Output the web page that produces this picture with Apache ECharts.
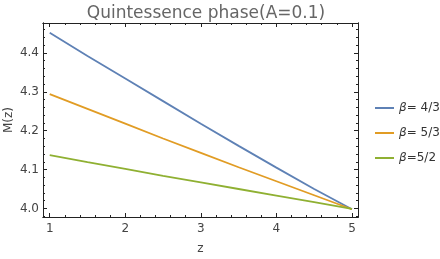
<!DOCTYPE html>
<html><head><meta charset="utf-8">
<script src="https://cdn.jsdelivr.net/npm/echarts@6/dist/echarts.min.js"></script>
<style>html,body{margin:0;padding:0;background:#fff}#c{width:440px;height:259px}</style>
</head><body><div id="c"></div>
<script>
const zValues = [1, 1.5, 2, 2.5, 3, 3.5, 4, 4.5, 5];
const seriesNames = ['β= 4/3', 'β= 5/3', 'β=5/2'];
const beta43 = [4.452, 4.392, 4.334, 4.276, 4.218, 4.161, 4.105, 4.050, 3.998];
const beta53 = [4.294, 4.256, 4.218, 4.180, 4.143, 4.106, 4.070, 4.034, 3.998];
const beta52 = [4.137, 4.119, 4.102, 4.084, 4.067, 4.050, 4.033, 4.016, 3.999];
const xMajorTicks = [1, 2, 3, 4, 5];
const yMajorTicks = [4.0, 4.1, 4.2, 4.3, 4.4];
const colors = ['#5e81b5', '#e19c24', '#8fb032'];

const xMinor = [];
for (let i = 6; i <= 24; i++) { if (i % 5) xMinor.push(+(i / 5).toFixed(2)); }
const yMinor = [];
for (let i = 199; i <= 223; i++) { if (i % 5) yMinor.push(+(i / 50).toFixed(2)); }

const XMIN = 0.911, XMAX = 5.08, YMIN = 3.978, YMAX = 4.477;
const lineCol = '#222';
const labelStyle = { color: '#444', fontSize: 12, fontFamily: 'DejaVu Sans' };

function xAx(pos, custom, len, labels, name) {
  return {
    type: 'value', position: pos, min: XMIN, max: XMAX,
    name: name || '', nameLocation: 'middle', nameGap: 26, nameMoveOverlap: false,
    nameTextStyle: { color: '#444', fontSize: 12, fontFamily: 'DejaVu Sans' },
    axisLine: { show: true, lineStyle: { color: lineCol, width: 1 } },
    axisTick: { show: true, inside: true, length: len, customValues: custom, lineStyle: { color: lineCol } },
    axisLabel: labels ? Object.assign({ show: true, customValues: custom, margin: 6, formatter: v => String(v) }, labelStyle) : { show: false },
    splitLine: { show: false }
  };
}
function yAx(pos, custom, len, labels, name) {
  return {
    type: 'value', position: pos, min: YMIN, max: YMAX,
    name: name || '', nameLocation: 'middle', nameGap: 28, nameRotate: 90, nameMoveOverlap: false,
    nameTextStyle: { color: '#444', fontSize: 12, fontFamily: 'DejaVu Sans' },
    axisLine: { show: true, lineStyle: { color: lineCol, width: 1 } },
    axisTick: { show: true, inside: true, length: len, customValues: custom, lineStyle: { color: lineCol } },
    axisLabel: labels ? Object.assign({ show: true, customValues: custom, margin: 4, formatter: v => v.toFixed(1) }, labelStyle) : { show: false },
    splitLine: { show: false }
  };
}

const chart = echarts.init(document.getElementById('c'), null, { renderer: 'canvas' });
const dataSets = [beta43, beta53, beta52];
chart.setOption({
  animation: false,
  title: {
    text: 'Quintessence phase(A=0.1)', left: 201, textAlign: 'center', top: 0,
    textStyle: { color: '#666', fontSize: 17, fontWeight: 'normal', fontFamily: 'DejaVu Sans' }
  },
  grid: { left: 43, right: 82, top: 23, bottom: 42, containLabel: false, outerBoundsMode: 'none' },
  legend: {
    orient: 'vertical', left: 370, top: 97, itemGap: 13,
    icon: 'rect', itemWidth: 19, itemHeight: 2,
    textStyle: { color: '#333', fontSize: 12, fontFamily: 'DejaVu Sans', rich: { i: { fontStyle: 'italic', fontSize: 12, fontFamily: 'DejaVu Sans', color: '#333' } } },
    formatter: n => n.replace('β', '{i|β}'),
    data: seriesNames
  },
  xAxis: [
    xAx('bottom', xMajorTicks, 4, true, 'z'),
    xAx('bottom', xMinor, 2, false),
    xAx('top', xMajorTicks, 4, false),
    xAx('top', xMinor, 2, false)
  ],
  yAxis: [
    yAx('left', yMajorTicks, 4, true, 'M(z)'),
    yAx('left', yMinor, 2, false),
    yAx('right', yMajorTicks, 4, false),
    yAx('right', yMinor, 2, false)
  ],
  series: seriesNames.map((n, k) => ({
    name: n, type: 'line', xAxisIndex: 0, yAxisIndex: 0,
    showSymbol: false, symbol: 'none',
    lineStyle: { color: colors[k], width: 1.8 }, itemStyle: { color: colors[k] },
    data: zValues.map((z, i) => [z, dataSets[k][i]])
  }))
});
</script></body></html>
